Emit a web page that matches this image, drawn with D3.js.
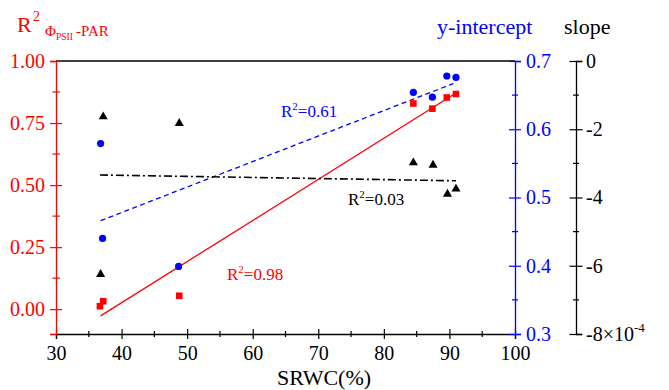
<!DOCTYPE html>
<html><head><meta charset="utf-8">
<script src="https://cdn.jsdelivr.net/npm/d3@7"></script>
<style>
body{margin:0;background:#fff;}
svg{display:block;}
</style></head>
<body><svg id="c" width="669" height="390" font-family="Liberation Serif, Times New Roman, serif"></svg>
<script>
// ---- data ----
const srwcRed = [36.7, 37.2, 48.8, 84.5, 87.4, 89.6, 91.0];
const r2Red = [0.012, 0.032, 0.054, 0.829, 0.808, 0.853, 0.867];
const srwcBlue = [36.8, 37.1, 48.7, 84.5, 87.4, 89.6, 91.0];
const interceptBlue = [0.579, 0.440, 0.399, 0.654, 0.647, 0.678, 0.676];
const srwcBlack = [36.8, 37.2, 48.8, 84.5, 87.5, 89.7, 91.0];
const slopeBlack = [-6.25, -1.632, -1.826, -2.98, -3.05, -3.90, -3.75]; // x 1e-4
const fitRedX = [36.8, 91.0], fitRedY = [-0.027, 0.871];
const fitBlueX = [36.8, 90.6], fitBlueY = [0.466, 0.667];
const fitBlackX = [36.7, 91.0], fitBlackY = [-3.34, -3.51];
const xTicks = [30, 40, 50, 60, 70, 80, 90, 100];
const xMinor = [35, 45, 55, 65, 75, 85, 95];
const leftTicks = [0, 0.25, 0.5, 0.75, 1.0];
const leftMinor = [0.125, 0.375, 0.625, 0.875];
const blueTicks = [0.3, 0.4, 0.5, 0.6, 0.7];
const blueMinor = [0.35, 0.45, 0.55, 0.65];
const slopeTicks = [-8, -6, -4, -2, 0];
const slopeMinor = [-7, -5, -3, -1];

const FONT = "Liberation Serif, Times New Roman, serif";
const RED = "#ff0000", BLUE = "#0000ff", BLACK = "#000000";
const svg = d3.select("#c");
const L = 56, R = 515, T = 61, B = 334, S = 576;
const x = d3.scaleLinear().domain([30, 100]).range([L, R]);
const yL = d3.scaleLinear().domain([-0.1, 1.0]).range([B, T]);
const yB = d3.scaleLinear().domain([0.3, 0.7]).range([B, T]);
const yS = d3.scaleLinear().domain([-8, 0]).range([B, T]);

function styleAxis(g, color, major, vertical, sign) {
  g.attr("font-family", FONT).attr("font-size", 20);
  g.select(".domain").attr("stroke", color).attr("stroke-width", 1.3);
  g.selectAll(".tick line").attr("stroke", color).attr("stroke-width", 1.2);
  if (vertical) g.selectAll(".tick line").attr("x1", major * sign).attr("x2", -major * sign);
  else g.selectAll(".tick line").attr("y1", -major).attr("y2", major);
  g.selectAll(".tick text").attr("fill", color).attr("font-family", FONT).attr("font-size", 20);
}

// top frame line
svg.append("line").attr("x1", L).attr("x2", R).attr("y1", T).attr("y2", T)
  .attr("stroke", BLACK).attr("stroke-width", 1.3);

// bottom axis
const gx = svg.append("g").attr("transform", `translate(0,${B})`)
  .call(d3.axisBottom(x).tickValues(xTicks).tickFormat(d3.format("d")).tickSizeOuter(0).tickSize(5).tickPadding(10));
styleAxis(gx, BLACK, 5, false);
gx.selectAll(".tick text").attr("dy", "0.71em").attr("y", 12);
xMinor.forEach(v => gx.append("line").attr("x1", x(v)).attr("x2", x(v)).attr("y1", -3).attr("y2", 3).attr("stroke", BLACK).attr("stroke-width", 1.2));

// left axis (red)
const gl = svg.append("g").attr("transform", `translate(${L},0)`)
  .call(d3.axisLeft(yL).tickValues(leftTicks).tickFormat(d3.format(".2f")).tickSizeOuter(0).tickSize(6).tickPadding(5));
styleAxis(gl, RED, 6, true, -1);
leftMinor.forEach(v => gl.append("line").attr("x1", -3.5).attr("x2", 4).attr("y1", yL(v)).attr("y2", yL(v)).attr("stroke", RED).attr("stroke-width", 1.2));

// right axis (blue)
const gb = svg.append("g").attr("transform", `translate(${R},0)`)
  .call(d3.axisRight(yB).tickValues(blueTicks).tickFormat(d3.format(".1f")).tickSizeOuter(0).tickSize(6).tickPadding(5));
styleAxis(gb, BLUE, 6, true, 1);
blueMinor.forEach(v => gb.append("line").attr("x1", -3).attr("x2", 3).attr("y1", yB(v)).attr("y2", yB(v)).attr("stroke", BLUE).attr("stroke-width", 1.2));

// slope axis (black)
const gs = svg.append("g").attr("transform", `translate(${S},0)`)
  .call(d3.axisRight(yS).tickValues(slopeTicks).tickFormat(d => d === 0 ? "0" : String(d)).tickSizeOuter(0).tickSize(6).tickPadding(4));
styleAxis(gs, BLACK, 6.5, true, 1);
slopeMinor.forEach(v => gs.append("line").attr("x1", -3).attr("x2", 3).attr("y1", yS(v)).attr("y2", yS(v)).attr("stroke", BLACK).attr("stroke-width", 1.2));
gs.selectAll(".tick text").filter(d => d === -8).each(function () {
  const t = d3.select(this); t.text(null);
  t.append("tspan").text("-8×10");
  t.append("tspan").text("-4").attr("font-size", 13).attr("dy", "-0.65em");
});

// fit lines
const line = (ys) => d3.line().x(d => x(d[0])).y(d => ys(d[1]));
svg.append("path").datum(d3.zip(fitRedX, fitRedY)).attr("d", line(yL))
  .attr("stroke", RED).attr("stroke-width", 1.3).attr("fill", "none");
svg.append("path").datum(d3.zip(fitBlueX, fitBlueY)).attr("d", line(yB))
  .attr("stroke", BLUE).attr("stroke-width", 1.3).attr("fill", "none").attr("stroke-dasharray", "5,3.5");
svg.append("path").datum(d3.zip(fitBlackX, fitBlackY)).attr("d", line(yS))
  .attr("stroke", BLACK).attr("stroke-width", 1.6).attr("fill", "none").attr("stroke-dasharray", "8,3,2,3");

// points
svg.append("g").selectAll("rect").data(d3.zip(srwcRed, r2Red)).join("rect")
  .attr("x", d => x(d[0]) - 3.3).attr("y", d => yL(d[1]) - 3.3).attr("width", 6.6).attr("height", 6.6).attr("fill", RED);
svg.append("g").selectAll("circle").data(d3.zip(srwcBlue, interceptBlue)).join("circle")
  .attr("cx", d => x(d[0])).attr("cy", d => yB(d[1])).attr("r", 3.6).attr("fill", BLUE);
const tri = d3.symbol().type(d3.symbolTriangle).size(36);
svg.append("g").selectAll("path").data(d3.zip(srwcBlack, slopeBlack)).join("path")
  .attr("d", tri).attr("transform", d => `translate(${x(d[0])},${yS(d[1])})`).attr("fill", BLACK);

// annotations
function r2Label(px, py, val, color) {
  const t = svg.append("text").attr("x", px).attr("y", py).attr("fill", color)
    .attr("font-family", FONT).attr("font-size", 17);
  t.append("tspan").text("R");
  t.append("tspan").text("2").attr("font-size", 11).attr("dy", -7);
  t.append("tspan").text("=" + val).attr("dy", 7);
}
r2Label(281, 117, "0.61", BLUE);
r2Label(348, 205, "0.03", BLACK);
r2Label(227, 280, "0.98", RED);

// titles
const tt = svg.append("text").attr("fill", RED).attr("font-family", FONT);
tt.append("tspan").attr("x", 17).attr("y", 32).text("R").attr("font-size", 22);
tt.append("tspan").attr("x", 33).attr("y", 21).text("2").attr("font-size", 14);
tt.append("tspan").attr("x", 45).attr("y", 36).text("Φ").attr("font-size", 15);
tt.append("tspan").attr("x", 56).attr("y", 40).text("PSII").attr("font-size", 9.5);
tt.append("tspan").attr("x", 76).attr("y", 36).text("-PAR").attr("font-size", 15);

svg.append("text").attr("x", 437).attr("y", 34).attr("fill", BLUE).attr("font-family", FONT).attr("font-size", 22).text("y-intercept");
svg.append("text").attr("x", 564).attr("y", 34).attr("fill", BLACK).attr("font-family", FONT).attr("font-size", 22).text("slope");
svg.append("text").attr("x", 324).attr("y", 385).attr("text-anchor", "middle")
  .attr("fill", BLACK).attr("font-family", FONT).attr("font-size", 22).text("SRWC(%)");
</script></body></html>
